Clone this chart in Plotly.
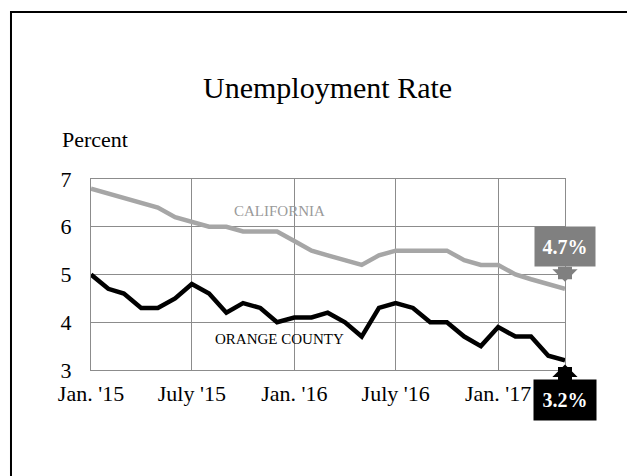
import plotly.graph_objects as go
import pandas as pd

months = pd.date_range("2015-01-01", "2017-05-01", freq="MS")
california = [6.8, 6.7, 6.6, 6.5, 6.4, 6.2, 6.1, 6.0, 6.0, 5.9, 5.9, 5.9,
              5.7, 5.5, 5.4, 5.3, 5.2, 5.4, 5.5, 5.5, 5.5, 5.5, 5.3, 5.2,
              5.2, 5.0, 4.9, 4.8, 4.7]
orange_county = [5.0, 4.7, 4.6, 4.3, 4.3, 4.5, 4.8, 4.6, 4.2, 4.4, 4.3, 4.0,
                 4.1, 4.1, 4.2, 4.0, 3.7, 4.3, 4.4, 4.3, 4.0, 4.0, 3.7, 3.5,
                 3.9, 3.7, 3.7, 3.3, 3.2]
tick_dates = ["2015-01-01", "2015-07-01", "2016-01-01", "2016-07-01", "2017-01-01"]
tick_labels = ["Jan. '15", "July '15", "Jan. '16", "July '16", "Jan. '17"]

SERIF = "Liberation Serif, Times New Roman, serif"
GRID = "#8c8c8c"

fig = go.Figure()
fig.add_trace(go.Scatter(x=months, y=california, mode="lines",
                         line=dict(color="#a6a6a6", width=4.5), name="California"))
fig.add_trace(go.Scatter(x=months, y=orange_county, mode="lines",
                         line=dict(color="#000000", width=4.5), name="Orange County"))

# the page body has an 8px margin, so the figure is drawn 8px smaller
fig.update_layout(
    width=627, height=468,
    margin=dict(l=83, r=70, t=171, b=106),
    paper_bgcolor="white", plot_bgcolor="white",
    showlegend=False,
    font=dict(family=SERIF, color="black", size=22),
)
fig.update_xaxes(range=[months[0], months[-1]], tickvals=tick_dates, ticktext=tick_labels,
                 showgrid=True, gridcolor=GRID, gridwidth=1,
                 showline=True, linecolor=GRID, linewidth=1, mirror=True,
                 ticks="", ticklabelstandoff=4, zeroline=False,
                 tickfont=dict(family=SERIF, size=22, color="black"))
fig.update_yaxes(range=[3, 7], dtick=1, tick0=3,
                 showgrid=True, gridcolor=GRID, gridwidth=1,
                 showline=True, linecolor=GRID, linewidth=1, mirror=True,
                 ticks="", ticklabelstandoff=14, zeroline=False,
                 tickfont=dict(family=SERIF, size=22, color="black"))

# outer border (top and left visible)
fig.add_shape(type="rect", xref="paper", yref="paper",
              x0=-0.1688, x1=2.0, y0=-2.0, y1=1.8743,
              line=dict(color="black", width=2), fillcolor="rgba(0,0,0,0)", layer="below")

annotations = [
    dict(text="Unemployment Rate", xref="paper", yref="paper", x=0.4979, y=1.478,
         showarrow=False, font=dict(family=SERIF, size=30, color="black"),
         xanchor="center", yanchor="middle"),
    dict(text="Percent", xref="paper", yref="paper", x=-0.066, y=1.209,
         showarrow=False, font=dict(family=SERIF, size=22, color="black"),
         xanchor="left", yanchor="middle"),
    dict(text="CALIFORNIA", x="2015-12-05", y=6.33, showarrow=False,
         font=dict(family=SERIF, size=15, color="#9a9a9a")),
    dict(text="ORANGE COUNTY", x="2015-12-05", y=3.65, showarrow=False,
         font=dict(family=SERIF, size=15, color="black")),
    dict(text="<b>%.1f%%</b>" % california[-1], x=months[-1], y=california[-1],
         ax=0, ay=-42, axref="pixel", ayref="pixel",
         showarrow=True, arrowhead=1, arrowwidth=14, arrowsize=0.3, arrowcolor="#808080",
         standoff=7, bgcolor="#808080", width=56, height=35, borderpad=2,
         font=dict(family=SERIF, size=20, color="white")),
    dict(text="<b>%.1f%%</b>" % orange_county[-1], x=months[-1], y=orange_county[-1],
         ax=0, ay=40, axref="pixel", ayref="pixel",
         showarrow=True, arrowhead=1, arrowwidth=14, arrowsize=0.3, arrowcolor="#000000",
         standoff=4, bgcolor="#000000", width=58, height=36, borderpad=2,
         font=dict(family=SERIF, size=20, color="white")),
]
fig.update_layout(annotations=annotations)

fig.write_html("out.html")
